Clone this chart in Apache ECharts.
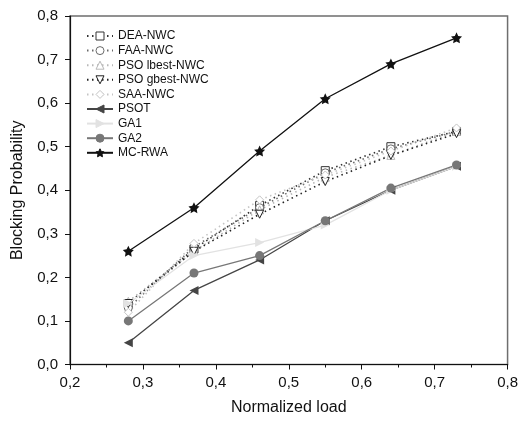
<!DOCTYPE html>
<html>
<head>
<meta charset="utf-8">
<script src="https://cdn.jsdelivr.net/npm/echarts@6/dist/echarts.min.js"></script>
<style>
  html, body { margin: 0; padding: 0; background: #fff; }
  #chart { width: 521px; height: 421px; }
</style>
</head>
<body>
<div id="chart"></div>
<script>
// Normalized load (x) values shared by every series
const loads = [0.28, 0.37, 0.46, 0.55, 0.64, 0.73];

// Blocking probability per algorithm
const deaNwc   = [0.140, 0.265, 0.365, 0.445, 0.500, 0.535];
const faaNwc   = [0.130, 0.270, 0.360, 0.440, 0.495, 0.535];
const psoLbest = [0.145, 0.260, 0.355, 0.430, 0.480, 0.535];
const psoGbest = [0.140, 0.260, 0.345, 0.420, 0.480, 0.530];
const saaNwc   = [0.120, 0.278, 0.378, 0.435, 0.490, 0.543];
const psot     = [0.050, 0.170, 0.240, 0.330, 0.400, 0.455];
const ga1      = [0.140, 0.250, 0.280, 0.320, 0.400, 0.455];
const ga2      = [0.100, 0.210, 0.250, 0.330, 0.405, 0.458];
const mcRwa    = [0.260, 0.360, 0.490, 0.610, 0.690, 0.750];

const xTicks = { min: 0.2, max: 0.8, step: 0.1 };
const yTicks = { min: 0.0, max: 0.8, step: 0.1 };

const FONT = '"Liberation Sans", Arial, sans-serif';
const STAR = 'path://M0,-10L2.94,-4.05L9.51,-3.09L4.76,1.55L5.88,8.09L0,5L-5.88,8.09L-4.76,1.55L-9.51,-3.09L-2.94,-4.05Z';

const pairs = ys => loads.map((x, i) => [x, ys[i]]);
const comma = v => v.toFixed(1).replace('.', ',');

// open-marker series drawn with dotted lines
function openSeries(name, ys, color, symbol, rotate) {
  return {
    name, type: 'line', data: pairs(ys),
    symbol, symbolSize: 8, symbolRotate: rotate || 0,
    showAllSymbol: true,
    lineStyle: { color, width: 1.6, type: [1.5, 3.5] },
    itemStyle: { color: '#fff', borderColor: color, borderWidth: 1 },
    z: 3
  };
}
// solid-marker series drawn with solid lines
function solidSeries(name, ys, color, symbol, rotate, size) {
  return {
    name, type: 'line', data: pairs(ys),
    symbol, symbolSize: size || 9, symbolRotate: rotate || 0,
    lineStyle: { color, width: 1.3, type: 'solid' },
    itemStyle: { color, borderColor: color, borderWidth: 0 },
    z: 4
  };
}

const series = [
  openSeries('DEA-NWC', deaNwc, '#333333', 'rect'),
  openSeries('FAA-NWC', faaNwc, '#6a6a6a', 'circle'),
  openSeries('PSO lbest-NWC', psoLbest, '#b8b8b8', 'triangle'),
  openSeries('PSO gbest-NWC', psoGbest, '#222222', 'triangle', 180),
  openSeries('SAA-NWC', saaNwc, '#c4c4c4', 'diamond'),
  solidSeries('PSOT', psot, '#454545', 'triangle', 90),
  solidSeries('GA1', ga1, '#e2e2e2', 'triangle', -90),
  solidSeries('GA2', ga2, '#777777', 'circle'),
  solidSeries('MC-RWA', mcRwa, '#111111', STAR, 0, 11)
];

const chart = echarts.init(document.getElementById('chart'), null, { renderer: 'canvas' });
chart.setOption({
  animation: false,
  backgroundColor: '#fff',
  textStyle: { fontFamily: FONT },
  grid: {
    left: 70, right: 11.5, top: 16, bottom: 56.5,
    show: true, borderColor: '#6e6e6e', borderWidth: 1.5, backgroundColor: 'transparent'
  },
  legend: {
    orient: 'vertical', left: 86, top: 30,
    itemWidth: 26, itemHeight: 10, itemGap: 2.6, padding: 0,
    itemStyle: { borderWidth: 1 },
    textStyle: { fontFamily: FONT, fontSize: 12, lineHeight: 12, color: '#111' }
  },
  xAxis: {
    type: 'value', min: xTicks.min, max: xTicks.max, interval: xTicks.step,
    name: 'Normalized load', nameLocation: 'middle', nameGap: 35,
    nameTextStyle: { fontFamily: FONT, fontSize: 16, color: '#111' },
    axisLine: { show: true, onZero: false, lineStyle: { color: '#111', width: 1.2 } },
    axisTick: { show: true, inside: false, length: 5, lineStyle: { color: '#111' } },
    minorTick: { show: true, splitNumber: 2, length: 3, lineStyle: { color: '#111' } },
    axisLabel: { formatter: comma, fontFamily: FONT, fontSize: 15, color: '#111', margin: 11 },
    splitLine: { show: false }
  },
  yAxis: {
    type: 'value', min: yTicks.min, max: yTicks.max, interval: yTicks.step,
    name: 'Blocking Probability', nameLocation: 'middle', nameGap: 44,
    nameTextStyle: { fontFamily: FONT, fontSize: 16, color: '#111' },
    axisLine: { show: true, onZero: false, lineStyle: { color: '#111', width: 1.2 } },
    axisTick: { show: true, inside: false, length: 5, lineStyle: { color: '#111' } },
    axisLabel: { formatter: comma, fontFamily: FONT, fontSize: 15, color: '#111', margin: 12 },
    splitLine: { show: false }
  },
  series
});
</script>
</body>
</html>
